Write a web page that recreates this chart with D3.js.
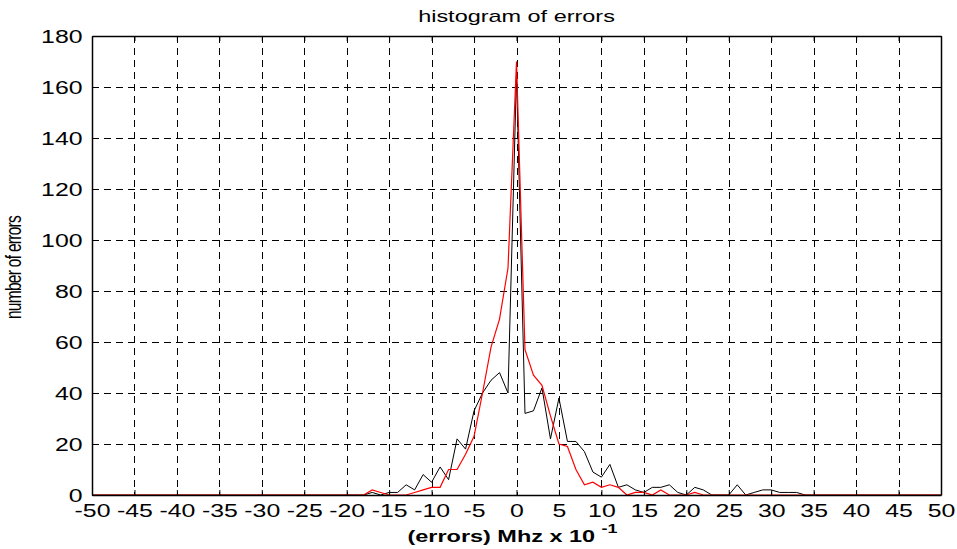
<!DOCTYPE html>
<html>
<head>
<meta charset="utf-8">
<script src="https://cdn.jsdelivr.net/npm/d3@7"></script>
<style>
  body { margin: 0; background: #fff; }
  svg { display: block; font-family: "Liberation Sans", Arial, sans-serif; }
</style>
</head>
<body>
<svg id="chart" width="957" height="549"></svg>
<script>
// error bins (Mhz x 10^-1)
var bins = [-50,-49,-48,-47,-46,-45,-44,-43,-42,-41,
            -40,-39,-38,-37,-36,-35,-34,-33,-32,-31,
            -30,-29,-28,-27,-26,-25,-24,-23,-22,-21,
            -20,-19,-18,-17,-16,-15,-14,-13,-12,-11,
            -10,-9,-8,-7,-6,-5,-4,-3,-2,-1,
            0,1,2,3,4,5,6,7,8,9,
            10,11,12,13,14,15,16,17,18,19,
            20,21,22,23,24,25,26,27,28,29,
            30,31,32,33,34,35,36,37,38,39,
            40,41,42,43,44,45,46,47,48,49,
            50];

var blackCounts = [0,0,0,0,0,0,0,0,0,0,
                   0,0,0,0,0,0,0,0,0,0,
                   0,0,0,0,0,0,0,0,0,0,
                   0,0,0,1,0,1,1,4,2,8,
                   5,11,6,22,18,33,40,45,48,40,
                   165,32,33,42,22,38,21,21,17,9,
                   7,12,3,4,2,1,3,3,4,1,
                   0,3,2,0,0,0,4,0,1,2,
                   2,1,1,1,0,0,0,0,0,0,
                   0,0,0,0,0,0,0,0,0,0,
                   0];

var redCounts = [0,0,0,0,0,0,0,0,0,0,
                 0,0,0,0,0,0,0,0,0,0,
                 0,0,0,0,0,0,0,0,0,0,
                 0,0,0,2,1,0,0,0,1,2,
                 3,3,10,10,16,23,40,58,69,89,
                 170,57,47,43,31,20,19,10,4,5,
                 3,4,3,0,1,1,0,2,0,0,
                 0,1,0,0,0,0,0,0,0,0,
                 0,0,0,0,0,0,0,0,0,0,
                 0,0,0,0,0,0,0,0,0,0,
                 0];

var xTicks = [-50,-45,-40,-35,-30,-25,-20,-15,-10,-5,0,5,10,15,20,25,30,35,40,45,50];
var yTicks = [0,20,40,60,80,100,120,140,160,180];

var svg = d3.select("#chart"),
    width = +svg.attr("width"),
    height = +svg.attr("height");
var margin = {top: 36, right: 16, bottom: 54, left: 92};
var w = width - margin.left - margin.right,
    h = height - margin.top - margin.bottom;
var stretch = 1.38; // text in the picture is wide

var x = d3.scaleLinear().domain([-50, 50]).range([0, w]);
var y = d3.scaleLinear().domain([0, 180]).range([h, 0]);

var g = svg.append("g").attr("transform", "translate(" + margin.left + "," + margin.top + ")");

// dashed grid
g.append("g")
    .selectAll("line")
    .data(xTicks.slice(1, -1))
    .enter()
    .append("line")
    .attr("x1", function(d) { return Math.round(x(d)) + 0.5; })
    .attr("x2", function(d) { return Math.round(x(d)) + 0.5; })
    .attr("y1", 0)
    .attr("y2", h)
    .attr("stroke", "#000")
    .attr("stroke-width", 1)
    .attr("stroke-dasharray", "7,5");

g.append("g")
    .selectAll("line")
    .data(yTicks.slice(1, -1))
    .enter()
    .append("line")
    .attr("y1", function(d) { return Math.round(y(d)) + 0.5; })
    .attr("y2", function(d) { return Math.round(y(d)) + 0.5; })
    .attr("x1", 0)
    .attr("x2", w)
    .attr("stroke", "#000")
    .attr("stroke-width", 1)
    .attr("stroke-dasharray", "7,5");

// series lines
var line = function(counts) {
    return d3.line()
        .x(function(d, i) { return x(bins[i]); })
        .y(function(d) { return y(d); })(counts);
};

g.append("path")
    .attr("d", line(blackCounts))
    .attr("fill", "none")
    .attr("stroke", "#000")
    .attr("stroke-width", 1);

g.append("path")
    .attr("d", line(redCounts))
    .attr("fill", "none")
    .attr("stroke", "#ff0000")
    .attr("stroke-width", 1.2);

// axes (ticks inside, like matlab); plain hyphen for negatives
var plain = function(d) { return String(d); };
var xAxis = d3.axisBottom(x).tickValues(xTicks).tickFormat(plain).tickSizeInner(-5).tickSizeOuter(0).tickPadding(9);
var yAxis = d3.axisLeft(y).tickValues(yTicks).tickFormat(plain).tickSizeInner(-5).tickSizeOuter(0).tickPadding(9);

var gx = g.append("g").attr("transform", "translate(0," + h + ")").call(xAxis);
var gy = g.append("g").call(yAxis);
g.append("g").call(d3.axisTop(x).tickValues(xTicks).tickSizeInner(-5).tickSizeOuter(0).tickFormat(""));
g.append("g").attr("transform", "translate(" + w + ",0)")
    .call(d3.axisRight(y).tickValues(yTicks).tickSizeInner(-5).tickSizeOuter(0).tickFormat(""));

g.selectAll(".domain").attr("stroke", "#000").attr("stroke-width", 1.5);
g.selectAll(".tick line").attr("stroke", "#000");
gx.selectAll("text")
    .attr("font-size", 18)
    .attr("fill", "#000")
    .attr("font-family", "Liberation Sans, Arial, sans-serif")
    .attr("transform", "scale(" + stretch + ",1)");
gy.selectAll("text")
    .attr("font-size", 18)
    .attr("fill", "#000")
    .attr("font-family", "Liberation Sans, Arial, sans-serif")
    .attr("x", -9.5 / stretch)
    .attr("dy", "0.36em")
    .attr("transform", "scale(" + stretch + ",1)");

// title and labels
svg.append("text")
    .attr("transform", "translate(" + (margin.left + w / 2) + ",22) scale(" + stretch + ",1)")
    .attr("text-anchor", "middle")
    .attr("font-size", 17)
    .text("histogram of errors");

var xl = svg.append("text")
    .attr("transform", "translate(" + (margin.left + w / 2 - 4) + ",542) scale(" + stretch + ",1)")
    .attr("text-anchor", "middle")
    .attr("font-size", 17)
    .attr("font-weight", "bold");
xl.append("tspan").text("(errors) Mhz x 10 ");
xl.append("tspan").attr("dy", -9).attr("font-size", 13).text("-1");

svg.append("text")
    .attr("transform", "translate(21," + (margin.top + h / 2 + 2) + ") scale(" + stretch + ",1) rotate(-90)")
    .attr("text-anchor", "middle")
    .attr("font-size", 15.5)
    .attr("letter-spacing", -0.7)
    .text("number of errors");
</script>
</body>
</html>
